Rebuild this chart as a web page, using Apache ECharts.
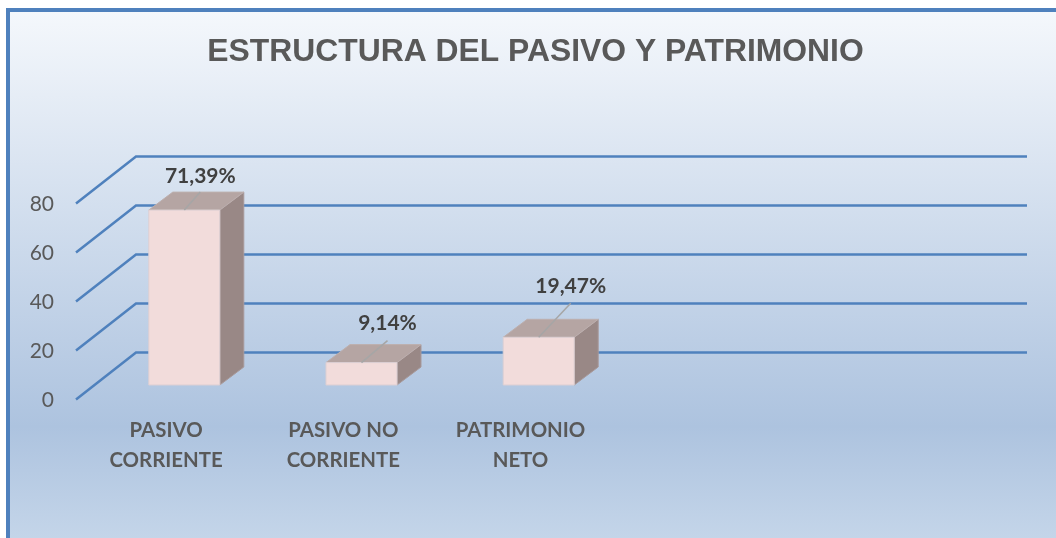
<!DOCTYPE html>
<html>
<head>
<meta charset="utf-8">
<style>html,body{margin:0;padding:0;background:#fff}#c{width:1056px;height:538px}</style>
<script src="https://cdn.jsdelivr.net/npm/echarts@6/dist/echarts.min.js"></script>
</head>
<body>
<div id="c"></div>
<script>
const titleText = 'ESTRUCTURA DEL PASIVO Y PATRIMONIO';
const categories = ['PASIVO\nCORRIENTE', 'PASIVO NO\nCORRIENTE', 'PATRIMONIO\nNETO', '', ''];
const values = [71.39, 9.14, 19.47];
const valueLabels = ['71,39%', '9,14%', '19,47%'];
const yTicks = [0, 20, 40, 60, 80];

const depthWall = [60, -47];
const wallExtra = 5;
const depthBar = [24, -18];
const barOffset = [19.7, -15];
const barWidth = 71;
const leaders = [[16, -18], [26, -22], [32, -34]];
const labelShift = [[16, -33.5], [26, -39], [32, -51]];

const chart = echarts.init(document.getElementById('c'), null, {renderer: 'canvas'});
chart.setOption({
  animation: false,
  title: {
    text: titleText, left: 530.5, top: 31, textAlign: 'center',
    textStyle: {fontFamily: '"Liberation Sans"', fontWeight: 'bold', fontSize: 31.85, color: '#595959'}
  },
  graphic: [
    {type: 'rect', z: -10, shape: {x: 6, y: 8, width: 1050, height: 530}, silent: true,
      style: {fill: new echarts.graphic.LinearGradient(0, 0, 0, 1, [
        {offset: 0, color: '#F5F8FC'}, {offset: 0.79, color: '#ADC3DF'}, {offset: 1, color: '#C4D5E9'}])}},
    {type: 'rect', z: -9, shape: {x: 6, y: 8, width: 1050, height: 4}, silent: true, style: {fill: '#4F81BD'}},
    {type: 'rect', z: -9, shape: {x: 6, y: 8, width: 4, height: 530}, silent: true, style: {fill: '#4F81BD'}}
  ],
  grid: {left: 76, top: 204, width: 886, height: 196},
  xAxis: {
    type: 'category', data: categories,
    axisLine: {show: false}, axisTick: {show: false}, splitLine: {show: false},
    axisLabel: {interval: 0, margin: 15, lineHeight: 30, padding: [0, 0, 0, 3], fontFamily: 'Lato', fontWeight: 'bold', fontSize: 20.4, color: '#595959'}
  },
  yAxis: {
    type: 'value', min: 0, max: 80, interval: 20,
    axisLine: {show: false}, axisTick: {show: false}, splitLine: {show: false},
    axisLabel: {margin: 22, fontFamily: 'Lato', fontSize: 21, color: '#595959'}
  },
  series: [
    {
      type: 'custom', coordinateSystem: 'cartesian2d', z: 2, silent: true,
      data: yTicks.map(v => [0, v]),
      renderItem(params, api) {
        const p = api.coord([0, api.value(1)]);
        const cs = params.coordSys;
        const x = cs.x, y = p[1] - 0.5;
        return {type: 'polyline',
          shape: {points: [[x, y], [x + depthWall[0], y + depthWall[1]], [x + cs.width + wallExtra + depthWall[0], y + depthWall[1]]]},
          style: {stroke: '#4F81BD', lineWidth: 2.5, fill: null}};
      }
    },
    {
      type: 'custom', coordinateSystem: 'cartesian2d', z: 3, silent: true,
      data: values.map((v, i) => [i, v]),
      renderItem(params, api) {
        const i = params.dataIndex;
        const top = api.coord([api.value(0), api.value(1)]);
        const base = api.coord([api.value(0), 0]);
        const cx = top[0] + barOffset[0];
        const l = cx - barWidth / 2, r = cx + barWidth / 2;
        const t = top[1] + barOffset[1], b = base[1] + barOffset[1];
        const [dx, dy] = depthBar;
        return {type: 'group', children: [
          {type: 'polygon', shape: {points: [[r, t], [r + dx, t + dy], [r + dx, b + dy], [r, b]]},
            style: {fill: '#998886', stroke: '#A8999A', lineWidth: 1}},
          {type: 'polygon', shape: {points: [[l, t], [l + dx, t + dy], [r + dx, t + dy], [r, t]]},
            style: {fill: '#B5A5A3', stroke: '#BDAFAE', lineWidth: 1}},
          {type: 'rect', shape: {x: l, y: t, width: barWidth, height: b - t},
            style: {fill: '#F2DCDB', stroke: '#DCCFD3', lineWidth: 1}},
          {type: 'line', shape: {x1: cx, y1: t, x2: cx + leaders[i][0], y2: t + leaders[i][1]},
            style: {stroke: '#A6A6A6', lineWidth: 1.5}},
          {type: 'text', style: {x: cx + labelShift[i][0], y: t + labelShift[i][1], text: valueLabels[i],
            align: 'center', verticalAlign: 'middle', fontFamily: 'Lato', fontWeight: 'bold', fontSize: 21, fill: '#404040'}}
        ]};
      }
    }
  ]
});
</script>
</body>
</html>
